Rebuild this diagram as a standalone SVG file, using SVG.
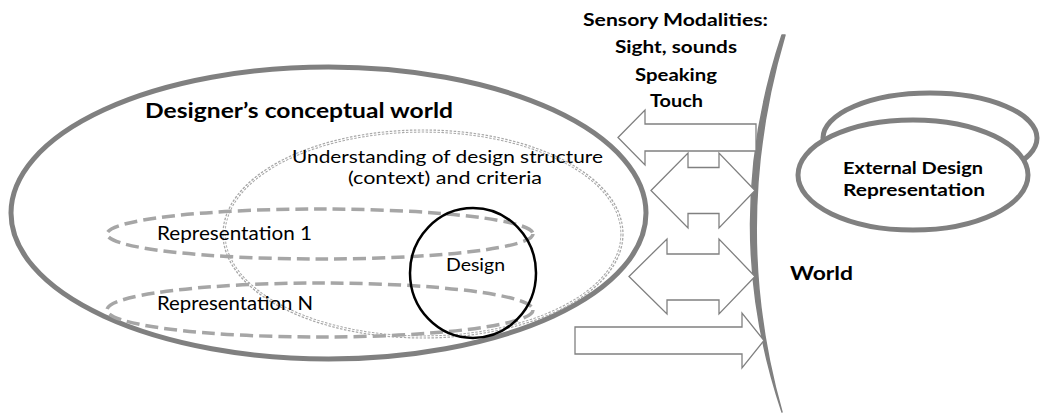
<svg xmlns="http://www.w3.org/2000/svg" width="1041" height="414" viewBox="0 0 1041 414">
<style>
.thick{fill:none;stroke:#808080;stroke-width:5}
.dash{fill:none;stroke:#a6a6a6;stroke-width:3.5;stroke-dasharray:13 6}
.dotA{fill:none;stroke:#a8a8a8;stroke-width:3.2;stroke-dasharray:2.5 1.5}
.dotB{fill:none;stroke:#ffffff;stroke-width:1}
.arrow{fill:#ffffff;stroke:#808080;stroke-width:1.3;stroke-linejoin:miter}
.t{font-family:Lato,"Open Sans","Liberation Sans",sans-serif;fill:#000}
.b{font-weight:bold}
</style>
<rect width="1041" height="414" fill="#ffffff"/>
<g id="conceptual-world">
<ellipse class="thick" cx="328.5" cy="213" rx="317.5" ry="146"/>
<text class="t b" x="145" y="118" font-size="21.5" textLength="308" lengthAdjust="spacingAndGlyphs">Designer’s conceptual world</text>
</g>
<g id="understanding">
<ellipse class="dotA" cx="423" cy="234" rx="199" ry="103"/>
<ellipse class="dotB" cx="423" cy="234" rx="199" ry="103"/>
<text class="t" x="447.5" y="163" font-size="17.5" text-anchor="middle" textLength="311" lengthAdjust="spacingAndGlyphs">Understanding of design structure</text>
<text class="t" x="445" y="183.5" font-size="17.5" text-anchor="middle" textLength="194" lengthAdjust="spacingAndGlyphs">(context) and criteria</text>
</g>
<g id="representation-1">
<ellipse class="dash" cx="320" cy="234" rx="213" ry="25"/>
<text class="t" x="157" y="240" font-size="18.5" textLength="155" lengthAdjust="spacingAndGlyphs">Representation 1</text>
</g>
<g id="representation-n">
<ellipse class="dash" cx="320" cy="310" rx="213" ry="27"/>
<text class="t" x="157" y="310" font-size="18.5" textLength="156" lengthAdjust="spacingAndGlyphs">Representation N</text>
</g>
<g id="design">
<ellipse cx="473" cy="273" rx="63" ry="65" fill="none" stroke="#000" stroke-width="2.5"/>
<text class="t" x="475.5" y="270.5" font-size="18" text-anchor="middle" textLength="59" lengthAdjust="spacingAndGlyphs">Design</text>
</g>
<g id="world">
<path d="M782,35 Q719,225 782,412 Q729,225 785,35 Z" fill="#808080" stroke="#808080" stroke-width="1.5" stroke-linejoin="round"/>
<text class="t b" x="790" y="280" font-size="18.5" textLength="63" lengthAdjust="spacingAndGlyphs">World</text>
</g>
<g id="sensory-modalities">
<text class="t b" x="675.5" y="26" font-size="16.5" text-anchor="middle" textLength="185" lengthAdjust="spacingAndGlyphs">Sensory Modalities:</text>
<text class="t b" x="676" y="53" font-size="16.5" text-anchor="middle" textLength="122" lengthAdjust="spacingAndGlyphs">Sight, sounds</text>
<text class="t b" x="676" y="80.5" font-size="16.5" text-anchor="middle" textLength="82" lengthAdjust="spacingAndGlyphs">Speaking</text>
<text class="t b" x="676.5" y="107" font-size="16.5" text-anchor="middle" textLength="53" lengthAdjust="spacingAndGlyphs">Touch</text>
</g>
<g id="external-design-representation">
<ellipse class="thick" cx="930" cy="138" rx="107" ry="45" fill="#fff"/>
<ellipse class="thick" cx="913" cy="175" rx="115" ry="55" style="fill:#ffffff"/>
<text class="t b" x="913" y="174" font-size="17.5" text-anchor="middle" textLength="140" lengthAdjust="spacingAndGlyphs">External Design</text>
<text class="t b" x="914" y="196" font-size="17.5" text-anchor="middle" textLength="142" lengthAdjust="spacingAndGlyphs">Representation</text>
</g>
<g id="connectors">
<polygon class="arrow" points="618,137.5 645,110 645,124 756,124 756,151 645,151 645,165"/>
<polygon class="arrow" points="651,190.5 688,153 688,167.5 719,167.5 719,153 755,190.5 719,228 719,213.5 688,213.5 688,228"/>
<polygon class="arrow" points="629,276.5 667,239 667,254 719,254 719,239 755,276.5 719,314 719,300 667,300 667,314"/>
<polygon class="arrow" points="575,327 742,327 742,313 764,340.5 742,368 742,354 575,354"/>
</g>
</svg>
